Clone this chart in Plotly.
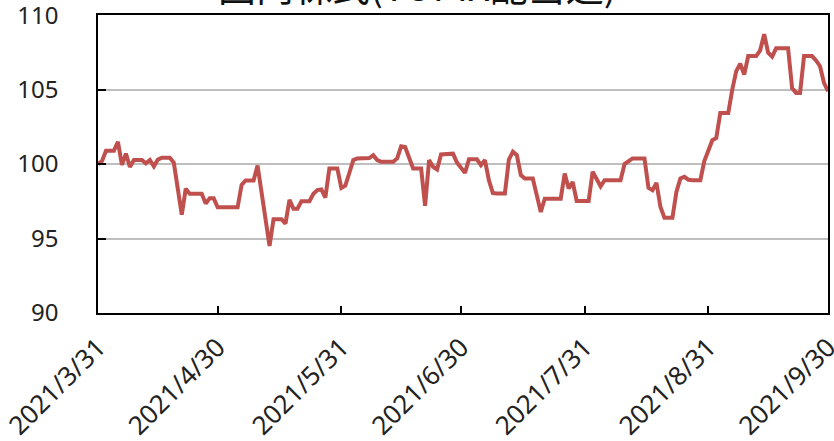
import pandas as pd
import plotly.graph_objects as go

# Daily index values (weekends/holidays carry the last value), 2021/3/31 - 2021/9/30
mar_apr = [100.0, 100.2, 100.9, 100.9, 100.9, 101.5, 99.95, 100.7, 99.8, 100.27, 100.27,
           100.27, 100.05, 100.27, 99.85, 100.3, 100.43, 100.43, 100.43, 100.1, 98.3,
           96.6, 98.35, 98.0, 98.0, 98.0, 98.0, 97.35, 97.7, 97.7, 97.1]
may = [97.1, 97.1, 97.1, 97.1, 97.1, 98.6, 98.9, 98.9, 98.9, 99.9, 98.1, 96.3, 94.5,
       96.3, 96.3, 96.3, 96.0, 97.6, 97.0, 97.0, 97.5, 97.5, 97.5, 98.0, 98.25, 98.3,
       97.75, 99.7, 99.7, 99.7, 98.4]
jun = [98.55, 99.4, 100.27, 100.38, 100.38, 100.38, 100.4, 100.6, 100.27, 100.15,
       100.15, 100.15, 100.15, 100.38, 101.2, 101.15, 100.38, 99.7, 99.7, 99.7, 97.2,
       100.27, 99.82, 99.64, 100.65, 100.65, 100.65, 100.7, 100.1, 99.8]
jul = [99.41, 100.32, 100.32, 100.32, 99.93, 100.27, 98.9, 98.05, 98.02, 98.02, 98.02,
       100.3, 100.83, 100.6, 99.26, 99.03, 99.03, 99.03, 97.9, 96.78, 97.68, 97.68,
       97.68, 97.68, 97.68, 99.37, 98.36, 98.8, 97.52, 97.52, 97.52]
aug = [97.52, 99.48, 98.92, 98.51, 98.92, 98.92, 98.92, 98.92, 98.92, 100.0, 100.16,
       100.38, 100.38, 100.38, 100.38, 98.4, 98.24, 98.74, 97.12, 96.4, 96.4, 96.4,
       98.13, 99.03, 99.14, 98.95, 98.92, 98.92, 98.92, 100.2, 101.0]
sep = [101.6, 101.75, 103.43, 103.43, 103.43, 105.0, 106.24, 106.74, 106.01, 107.25,
       107.25, 107.25, 107.64, 108.72, 107.48, 107.21, 107.77, 107.77, 107.77, 107.77,
       105.1, 104.78, 104.78, 107.25, 107.25, 107.25, 106.96, 106.57, 105.45, 104.89]

start_date = "2021-03-31"
end_date = "2021-09-30"
tick_dates = ["2021-03-31", "2021-04-30", "2021-05-31", "2021-06-30",
              "2021-07-31", "2021-08-31", "2021-09-30"]
tick_labels = ["2021/3/31", "2021/4/30", "2021/5/31", "2021/6/30",
               "2021/7/31", "2021/8/31", "2021/9/30"]
y_ticks = [90, 95, 100, 105, 110]
title_text = "国内株式(TOPIX配当込)"

values = mar_apr + may + jun + jul + aug + sep
dates = pd.date_range(start_date, end_date, freq="D")

fig = go.Figure()
fig.add_trace(go.Scatter(
    x=dates, y=values, mode="lines",
    line=dict(color="#C0504D", width=4),
    hoverinfo="skip", showlegend=False, cliponaxis=False,
))

fig.update_layout(
    width=834, height=441,
    margin=dict(l=98, r=6, t=15, b=128, autoexpand=False),
    paper_bgcolor="white", plot_bgcolor="white",
    font=dict(family="Noto Sans", color="#222222"),
    annotations=[dict(
        text=title_text, xref="paper", yref="paper", x=0.4376, y=1,
        xanchor="center", yanchor="bottom", yshift=1, showarrow=False,
        font=dict(family="Noto Sans CJK JP", size=38, color="#111111"),
    )],
)

fig.update_xaxes(
    type="date", range=[start_date, end_date + " 00:05"], automargin=False,
    tickvals=tick_dates, ticktext=tick_labels, tickangle=-45,
    ticklabeloverflow="allow", ticklabelstandoff=7,
    ticks="inside", ticklen=7, tickwidth=1.5, tickcolor="black",
    showline=True, linecolor="black", linewidth=1.5, mirror=True,
    showgrid=False, zeroline=False,
    tickfont=dict(family="Noto Sans", size=26, color="#222222"),
)
fig.update_yaxes(
    range=[90, 110.01], tickvals=y_ticks, automargin=False,
    ticklabeloverflow="allow",
    ticks="inside", ticklen=8, tickwidth=1.5, tickcolor="black",
    showline=True, linecolor="black", linewidth=1.5, mirror=True,
    showgrid=True, gridcolor="#BFBFBF", gridwidth=1.5, zeroline=False,
    ticklabelstandoff=33,
    tickfont=dict(family="Noto Sans", size=24, color="#222222"),
)

fig.write_html("out.html", config={"displayModeBar": False},
               post_script="document.body.style.margin='0';")
